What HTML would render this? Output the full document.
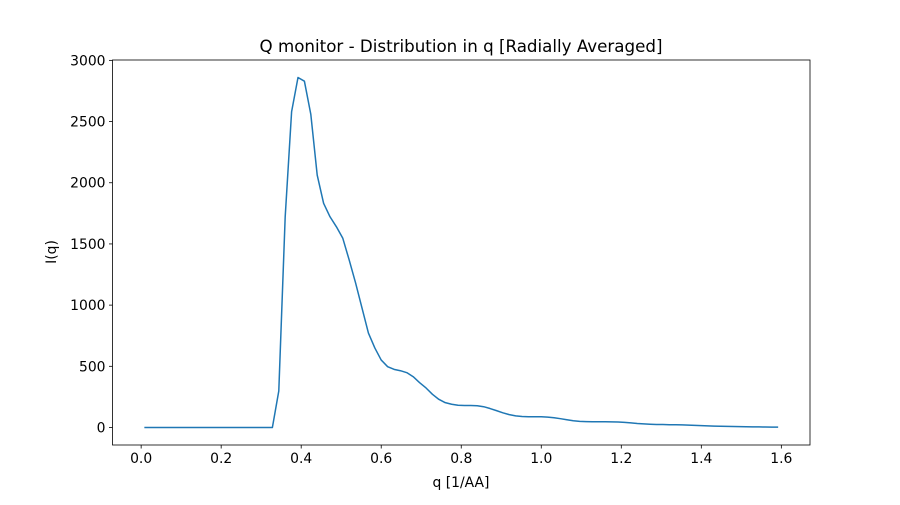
<!DOCTYPE html>
<html><head><meta charset="utf-8"><style>
body{margin:0;background:#fff}
svg text{font-family:"DejaVu Sans","Liberation Sans",sans-serif;fill:#000}
</style></head><body>
<svg id="chart" width="900" height="500" xmlns="http://www.w3.org/2000/svg">
<rect width="900" height="500" fill="#fff"/>
<text x="461" y="52" font-size="16.7" text-anchor="middle">Q monitor - Distribution in q [Radially Averaged]</text>
<text x="461" y="487" font-size="13.9" text-anchor="middle">q [1/AA]</text>
<text x="0" y="0" font-size="13.9" text-anchor="middle" transform="translate(56,252) rotate(-90)">I(q)</text>
<g id="ticks"></g>
<polyline id="line" fill="none" stroke="#1f77b4" stroke-width="1.5" stroke-linejoin="round"/>
<rect x="112.5" y="60" width="697.5" height="385" fill="none" stroke="#000" stroke-width="0.8"/>
</svg>
<script>
const q=[0.008,0.024,0.040,0.056,0.072,0.088,0.104,0.120,0.136,0.152,0.168,0.184,0.200,0.216,0.232,0.248,0.264,0.280,0.296,0.312,0.328,0.344,0.360,0.376,0.392,0.408,0.424,0.440,0.456,0.472,0.488,0.504,0.520,0.536,0.552,0.568,0.584,0.600,0.616,0.632,0.648,0.664,0.680,0.696,0.712,0.728,0.744,0.760,0.776,0.792,0.808,0.824,0.840,0.856,0.872,0.888,0.904,0.920,0.936,0.952,0.968,0.984,1.000,1.016,1.032,1.048,1.064,1.080,1.096,1.112,1.128,1.144,1.160,1.176,1.192,1.208,1.224,1.240,1.256,1.272,1.288,1.304,1.320,1.336,1.352,1.368,1.384,1.400,1.416,1.432,1.448,1.464,1.480,1.496,1.512,1.528,1.544,1.560,1.576,1.592];
const intensity=[0,0,0,0,0,0,0,0,0,0,0,0,0,0,0,0,0,0,0,0,0,298,1722,2580,2860,2830,2560,2063,1832,1722,1640,1546,1368,1180,976,772,650,551,497,475,464,448,415,366,323,271,230,203,190,182,180,180,178,170,155,138,120,105,95,90,88,88,88,85,80,72,63,55,50,48,47,47,47,46,45,42,38,33,30,27,25,24,23,22,21,19,17,15,13,11,10,9,8,7,6,5,5,4,3,3];
const xTicks=[0,0.2,0.4,0.6,0.8,1.0,1.2,1.4,1.6];
const xTickLabels=["0.0","0.2","0.4","0.6","0.8","1.0","1.2","1.4","1.6"];
const yTicks=[0,500,1000,1500,2000,2500,3000];
const L=112.5,R=810,T=60,B=445;
const xmin=-0.0716,xmax=1.6716,ymin=-143,ymax=3003;
const X=v=>L+(v-xmin)/(xmax-xmin)*(R-L);
const Y=v=>B-(v-ymin)/(ymax-ymin)*(B-T);
const ns="http://www.w3.org/2000/svg";
const g=document.getElementById('ticks');
function mk(t,a){const e=document.createElementNS(ns,t);for(const k in a)e.setAttribute(k,a[k]);return e;}
xTicks.forEach((v,i)=>{
  const l=mk('line',{x1:X(v),x2:X(v),y1:B,y2:B+3.5,stroke:'#000','stroke-width':0.8});
  
  
  g.appendChild(l);
  const t=mk('text',{x:X(v),y:B+18,'font-size':13.9,'text-anchor':'middle'});
  
  
  t.textContent=xTickLabels[i];g.appendChild(t);
});
yTicks.forEach(v=>{
  const l=mk('line',{x1:L-3.5,x2:L,y1:Y(v),y2:Y(v),stroke:'#000','stroke-width':0.8});
  
  
  g.appendChild(l);
  const t=mk('text',{x:L-7,y:Y(v)+5,'font-size':13.9,'text-anchor':'end'});
  
  
  t.textContent=String(v);g.appendChild(t);
});
document.getElementById('line').setAttribute('points',q.map((v,i)=>X(v).toFixed(2)+','+Y(intensity[i]).toFixed(2)).join(' '));
</script>
</body></html>
